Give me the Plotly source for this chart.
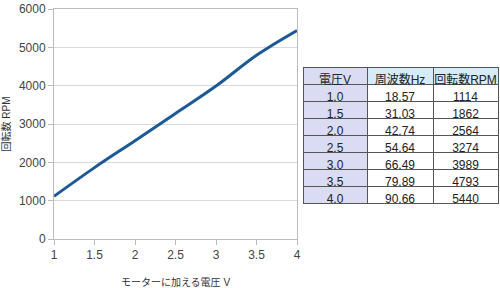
import plotly.graph_objects as go

voltage = [1.0, 1.5, 2.0, 2.5, 3.0, 3.5, 4.0]
freq_hz = [18.57, 31.03, 42.74, 54.64, 66.49, 79.89, 90.66]
rpm = [1114, 1862, 2564, 3274, 3989, 4793, 5440]

col_headers = ["電圧V", "周波数Hz", "回転数RPM"]
volt_labels = ["1.0", "1.5", "2.0", "2.5", "3.0", "3.5", "4.0"]
freq_labels = ["18.57", "31.03", "42.74", "54.64", "66.49", "79.89", "90.66"]
rpm_labels = [str(v) for v in rpm]

FONT = "Liberation Sans, Noto Sans CJK JP, sans-serif"
lav = "#d9dcf2"
blue = "#d5ebf5"

W, H = 500, 288

fig = go.Figure()
fig.add_trace(go.Scatter(
    x=voltage, y=rpm, mode="lines",
    line=dict(color="#1b5a96", width=3, shape="spline"),
    showlegend=False,
))

fig.add_trace(go.Table(
    domain=dict(x=[303 / W, 498 / W], y=[1 - 204 / H, 1 - 67 / H]),
    columnwidth=[64, 66, 65],
    header=dict(
        values=col_headers,
        fill_color=[lav, blue, blue],
        line=dict(color="#555555", width=1),
        font=dict(family=FONT, size=12, color="#222222"),
        align="center", height=17,
    ),
    cells=dict(
        values=[volt_labels, freq_labels, rpm_labels],
        fill_color=[[lav] * 7, ["white"] * 7, ["white"] * 7],
        line=dict(color="#555555", width=1),
        font=dict(family=FONT, size=12, color="#222222"),
        align="center", height=17,
    ),
))

fig.update_layout(
    width=W, height=H,
    margin=dict(l=0, r=0, t=0, b=0),
    paper_bgcolor="white", plot_bgcolor="white",
    font=dict(family=FONT, size=12, color="#444444"),
    xaxis=dict(
        domain=[54 / W, 297 / W], automargin=False,
        range=[1, 4], dtick=0.5, tick0=1,
        showgrid=False, zeroline=False,
        showline=True, linecolor="#bbbbbb", linewidth=1, mirror=True,
        ticks="outside", ticklen=5, tickcolor="#bbbbbb",
        tickfont=dict(size=12, color="#444444"),
        title=dict(text="モーターに加える電圧 V", font=dict(size=10, color="#333333"), standoff=20),
    ),
    yaxis=dict(
        domain=[1 - 239 / H, 1 - 9 / H], automargin=False,
        range=[0, 6000], dtick=1000,
        showgrid=True, gridcolor="#d9d9d9", zeroline=False,
        showline=True, linecolor="#bbbbbb", linewidth=1, mirror=True,
        ticks="outside", ticklen=5, tickcolor="#bbbbbb",
        tickfont=dict(size=12, color="#444444"),
        title=dict(text="回転数 RPM", font=dict(size=10, color="#333333"), standoff=10),
    ),
)

fig.write_html("out.html")
